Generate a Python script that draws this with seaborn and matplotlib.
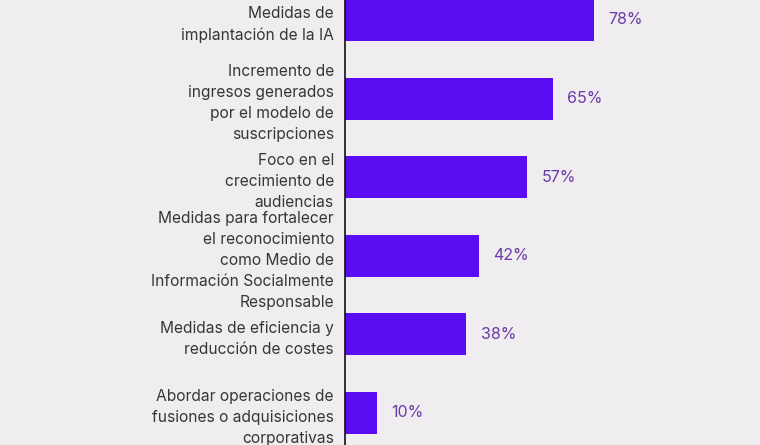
import matplotlib.pyplot as plt
import pandas as pd
import seaborn as sns

categories = [
    "Medidas de\nimplantación de la IA",
    "Incremento de\ningresos generados\npor el modelo de\nsuscripciones",
    "Foco en el\ncrecimiento de\naudiencias",
    "Medidas para fortalecer\nel reconocimiento\ncomo Medio de\nInformación Socialmente\nResponsable",
    "Medidas de eficiencia y\nreducción de costes",
    "Abordar operaciones de\nfusiones o adquisiciones\ncorporativas",
]
values = [78, 65, 57, 42, 38, 10]

df = pd.DataFrame({"medida": categories, "pct": values})

bg = "#efedf0"
bar_color = "#5a0cf2"
value_color = "#6a3aa8"
text_color = "#363636"

sns.set_theme(style="white")
plt.rcParams["font.family"] = ["Inter", "DejaVu Sans"]

fig = plt.figure(figsize=(7.6, 4.45), dpi=100, facecolor=bg)
ax = fig.add_axes([345 / 760, 0, 415 / 760, 1])
ax.set_facecolor(bg)

sns.barplot(
    data=df, x="pct", y="medida", orient="h",
    color=bar_color, saturation=1, width=0.535, linewidth=0, ax=ax,
)

for i, v in enumerate(values):
    ax.text(v + 4.5, i, f"{v}%", va="center", ha="left",
            fontsize=11.5, color=value_color)

ax.set_xlim(0, 130)
ax.set_ylim(5.41, -0.254)
ax.set_xlabel("")
ax.set_ylabel("")
ax.set_xticks([])
ax.tick_params(axis="y", length=0, pad=8)
for lab in ax.get_yticklabels():
    lab.set_fontsize(11.2)
    lab.set_color(text_color)
    lab.set_linespacing(1.5)

for side in ["top", "right", "bottom"]:
    ax.spines[side].set_visible(False)
ax.spines["left"].set_color("#111111")
ax.spines["left"].set_linewidth(1.2)

fig.savefig("out.png", dpi=100, facecolor=bg)
